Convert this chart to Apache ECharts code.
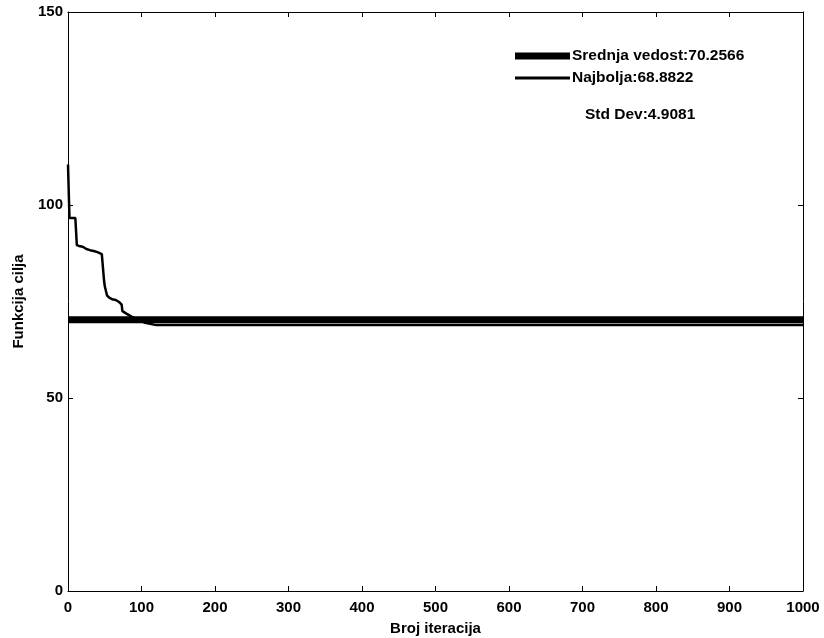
<!DOCTYPE html>
<html>
<head>
<meta charset="utf-8">
<script src="https://cdn.jsdelivr.net/npm/echarts@6/dist/echarts.min.js"></script>
<style>
  html, body { margin: 0; padding: 0; background: #fff; }
  #main { width: 824px; height: 638px; }
</style>
</head>
<body>
<div id="main"></div>
<script>
// best-so-far curve (Najbolja)
var iterations = [0, 1, 2, 10, 11, 12, 15, 20, 25, 30, 35, 40, 46, 48, 49, 50, 53, 56, 60, 65, 70, 73, 74, 76, 80, 87, 95, 105, 120, 1000];
var bestValues = [110.5, 110, 96.6, 96.6, 96.5, 89.6, 89.4, 89.2, 88.6, 88.3, 88.1, 87.8, 87.3, 87.0, 80.5, 79, 76.6, 76.0, 75.6, 75.4, 74.8, 74.2, 72.5, 72.0, 71.8, 71.0, 70.3, 69.5, 68.8822, 68.8822];
// mean value (Srednja vedost) line
var meanIter = [0, 1000];
var meanValue = 70.2566;
var stdDev = 4.9081;

var chartDom = document.getElementById('main');
var myChart = echarts.init(chartDom);
var option;

var font = 'Liberation Sans, Arial, sans-serif';
var meanName = 'Srednja vedost:' + meanValue;
var bestName = 'Najbolja:' + bestValues[bestValues.length - 1];
var tick = { show: true, inside: true, length: 5, lineStyle: { color: '#000', width: 1 } };

option = {
    animation: false,
    backgroundColor: '#fff',
    grid: { left: 68, right: 21, top: 12, bottom: 47, outerBoundsMode: 'none', containLabel: false },
    legend: [
        {
            data: [{ name: meanName, icon: 'rect' }],
            left: 510, top: 43,
            itemWidth: 55, itemHeight: 7, itemGap: 2,
            textStyle: { color: '#000', fontFamily: font, fontWeight: 'bold', fontSize: 15.5, padding: [0, 0, 0, -3] }
        },
        {
            data: [{ name: bestName, icon: 'rect' }],
            left: 510, top: 65,
            itemWidth: 55, itemHeight: 3, itemGap: 2,
            textStyle: { color: '#000', fontFamily: font, fontWeight: 'bold', fontSize: 15.5, padding: [0, 0, 0, -3] }
        }
    ],
    graphic: [{
        type: 'text',
        left: 585, top: 107,
        style: { text: 'Std Dev:' + stdDev, fill: '#000', font: 'bold 15.5px ' + font }
    }],
    xAxis: [
        {
            type: 'value', min: 0, max: 1000, interval: 100,
            name: 'Broj iteracija', nameLocation: 'middle', nameGap: 30,
            nameTextStyle: { color: '#000', fontFamily: font, fontWeight: 'bold', fontSize: 15 },
            axisLine: { onZero: false, lineStyle: { color: '#000', width: 1 } },
            axisTick: tick,
            axisLabel: { color: '#000', fontFamily: font, fontWeight: 'bold', fontSize: 15, margin: 9,
                formatter: function (v) { return String(v); } },
            splitLine: { show: false }
        },
        {
            type: 'value', min: 0, max: 1000, interval: 100, position: 'top',
            axisLine: { onZero: false, lineStyle: { color: '#000', width: 1 } },
            axisTick: tick,
            axisLabel: { show: false },
            splitLine: { show: false }
        }
    ],
    yAxis: [
        {
            type: 'value', min: 0, max: 150, interval: 50,
            name: 'Funkcija cilja', nameLocation: 'middle', nameGap: 42,
            nameTextStyle: { color: '#000', fontFamily: font, fontWeight: 'bold', fontSize: 15 },
            axisLine: { show: true, onZero: false, lineStyle: { color: '#000', width: 1 } },
            axisTick: tick,
            axisLabel: { color: '#000', fontFamily: font, fontWeight: 'bold', fontSize: 15, margin: 5 },
            splitLine: { show: false }
        },
        {
            type: 'value', min: 0, max: 150, interval: 50, position: 'right',
            axisLine: { show: true, onZero: false, lineStyle: { color: '#000', width: 1 } },
            axisTick: tick,
            axisLabel: { show: false },
            splitLine: { show: false }
        }
    ],
    series: [
        {
            name: meanName,
            type: 'line',
            symbol: 'none',
            data: meanIter.map(function (x) { return [x, meanValue]; }),
            itemStyle: { color: '#000' },
            lineStyle: { color: '#000', width: 7 }
        },
        {
            name: bestName,
            type: 'line',
            symbol: 'none',
            data: iterations.map(function (x, i) { return [x, bestValues[i]]; }),
            itemStyle: { color: '#000' },
            lineStyle: { color: '#000', width: 2.5 }
        }
    ]
};

option && myChart.setOption(option);
</script>
</body>
</html>
